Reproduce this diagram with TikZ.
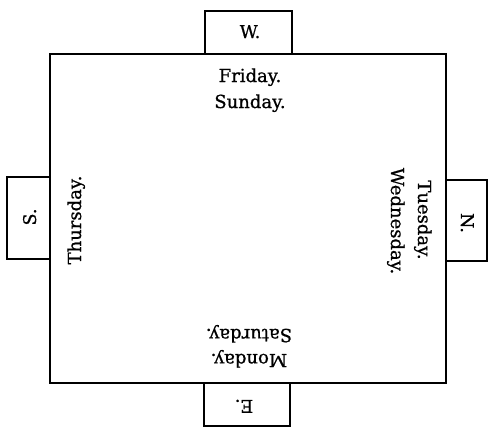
\documentclass[tikz,border=0pt]{standalone}
\usepackage{fontspec}
\setmainfont[FakeBold=0.8]{DejaVu Serif}
\begin{document}
\begin{tikzpicture}[x=1pt,y=-1pt,
  frame/.style={line width=2.2pt},
  side/.style={line width=1.8pt},
  day/.style={inner sep=0pt,anchor=base,font=\fontsize{18}{20}\selectfont},
  dir/.style={inner sep=0pt,anchor=base,font=\fontsize{17.5}{20}\selectfont}]
\useasboundingbox[fill=white] (0,0) rectangle (489,428);
\draw[frame] (50,54) rectangle (446,383);
% W box
\coordinate (w1) at (205,54); \coordinate (w2) at (205,11);
\coordinate (w3) at (292,11); \coordinate (w4) at (292,54);
\draw[side] (w1) -- (w2) -- (w3) -- (w4);
% S box
\coordinate (s1) at (50,177); \coordinate (s2) at (7,177);
\coordinate (s3) at (7,259); \coordinate (s4) at (50,259);
\draw[side] (s1) -- (s2) -- (s3) -- (s4);
% N box
\coordinate (n1) at (446,180); \coordinate (n2) at (487,180);
\coordinate (n3) at (487,261); \coordinate (n4) at (446,261);
\draw[side] (n1) -- (n2) -- (n3) -- (n4);
% E box
\coordinate (e1) at (204,383); \coordinate (e2) at (204,426);
\coordinate (e3) at (290,426); \coordinate (e4) at (290,383);
\draw[side] (e1) -- (e2) -- (e3) -- (e4);
% labels
\node[dir] (W) at (250,38) {W.};
\node[dir,rotate=90] (S) at (36,217) {S.};
\node[dir,rotate=-90] (N) at (461,223) {N.};
\node[dir,rotate=180] (E) at (244,400) {E.};
\node[day] (fri) at (250,82) {Friday.};
\node[day] (sun) at (250,108) {Sunday.};
\node[day,rotate=90] (thu) at (81,220) {Thursday.};
\node[day,rotate=-90] (tue) at (418,220) {Tuesday.};
\node[day,rotate=-90] (wed) at (391,221) {Wednesday.};
\node[day,rotate=180] (mon) at (249,354) {Monday.};
\node[day,rotate=180] (sat) at (249,329) {Saturday.};
\end{tikzpicture}
\end{document}
